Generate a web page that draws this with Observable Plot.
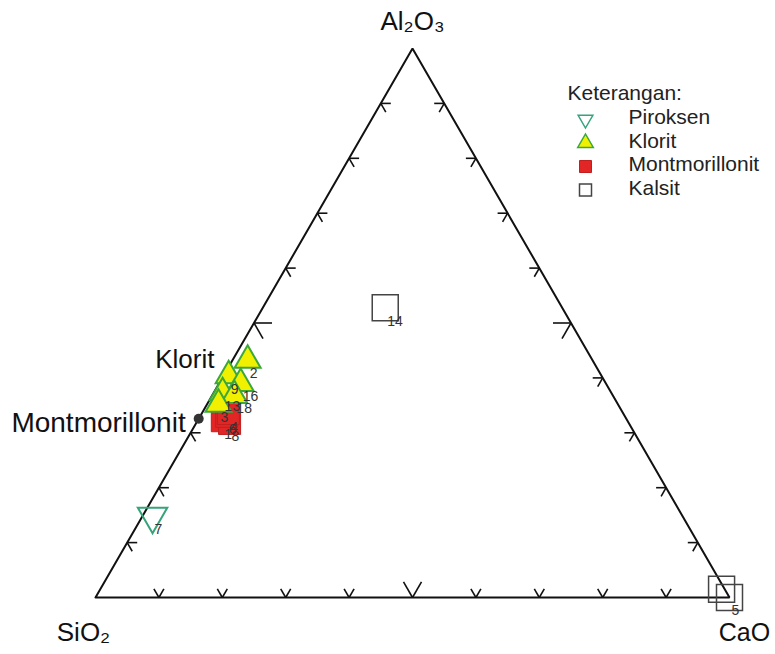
<!DOCTYPE html>
<html><head><meta charset="utf-8">
<script src="https://cdn.jsdelivr.net/npm/d3@7"></script>
<script src="https://cdn.jsdelivr.net/npm/@observablehq/plot@0.6"></script>
<style>html,body{margin:0;padding:0;background:#fff;} #chart svg{display:block}</style>
</head><body><div id="chart"></div>
<script>
// ---- data (weight fractions, %) ----
const sampleLabels   = ["14", "5", "", "7", "1", "8", "6", "4", "2", "9", "16", "13", "18", "3"];
const sampleMinerals = ["Kalsit","Kalsit","Kalsit","Piroksen","Montmorillonit","Montmorillonit","Montmorillonit","Montmorillonit","Klorit","Klorit","Klorit","Klorit","Klorit","Klorit"];
const sio2  = [27.9, 0.0, 0.5, 83.6, 63.9, 63.0, 62.8, 62.3, 54.4, 58.8, 57.6, 61.3, 59.7, 63.0];
const al2o3 = [52.8, 0.0, 1.5, 14.8, 32.2, 31.7, 33.0, 33.5, 43.2, 40.4, 39.0, 37.3, 36.8, 35.2];
const cao   = [19.3, 100.0, 98.0, 1.6, 3.9, 5.3, 4.2, 4.2, 2.4, 0.8, 3.4, 1.4, 3.5, 1.8];

const legendTitle = "Keterangan:";
const legendCategories = ["Piroksen", "Klorit", "Montmorillonit", "Kalsit"];

const vertexNames = ["SiO₂", "Al₂O₃", "CaO"];
const vertexSio2  = [100, 0, 0];
const vertexAl2o3 = [0, 100, 0];
const vertexCao   = [0, 0, 100];

const refNames = ["Klorit", "Montmorillonit"];
const refSio2  = [56.8, 67.45];
const refAl2o3 = [43.2, 32.55];
const refCao   = [0, 0];

const tickValues = [10, 20, 30, 40, 50, 60, 70, 80, 90];

// ---- layout ----
const W = 775, H = 654, mL = 95, mR = 46, mT = 48, mB = 57;
const PW = W - mL - mR, PH = H - mT - mB;
const FONT = "'Liberation Sans', Arial, Helvetica, sans-serif";

// ternary -> cartesian (fractions)
const tx = (s, a, c) => (c + a / 2) / (s + a + c);
const ty = (s, a, c) => a / (s + a + c);

const samples = sampleLabels.map((l, i) => ({
  label: l, mineral: sampleMinerals[i],
  x: tx(sio2[i], al2o3[i], cao[i]), y: ty(sio2[i], al2o3[i], cao[i])
}));
const vertices = vertexNames.map((n, i) => ({
  name: n, x: tx(vertexSio2[i], vertexAl2o3[i], vertexCao[i]), y: ty(vertexSio2[i], vertexAl2o3[i], vertexCao[i])
}));
const outline = [...vertices, vertices[0]];
const refs = refNames.map((n, i) => ({
  name: n, x: tx(refSio2[i], refAl2o3[i], refCao[i]), y: ty(refSio2[i], refAl2o3[i], refCao[i])
}));

// tick chevrons: two arms per tick, parallel to the other two sides
const S = Math.sqrt(3) / 2;
const tickArms = [];
for (const t of tickValues) {
  const L = t === 50 ? 18 : 10;
  const f = t / 100;
  const edges = [
    {p: [f, 0], dirs: [[-0.5, S], [0.5, S]]},
    {p: [f / 2, f], dirs: [[1, 0], [0.5, -S]]},
    {p: [1 - f / 2, f], dirs: [[-1, 0], [-0.5, -S]]}
  ];
  for (const e of edges) for (const d of e.dirs) {
    tickArms.push({x1: e.p[0], y1: e.p[1], x2: e.p[0] + L * d[0] / PW, y2: e.p[1] + L * d[1] / PH});
  }
}

// ---- symbols ----
const triUp = {draw(ctx, size) { const r = Math.sqrt(size / Math.PI);
  ctx.moveTo(0, -r); ctx.lineTo(r * S, r / 2); ctx.lineTo(-r * S, r / 2); ctx.closePath(); }};
const triDown = {draw(ctx, size) { const r = Math.sqrt(size / Math.PI);
  ctx.moveTo(0, r); ctx.lineTo(r * S, -r / 2); ctx.lineTo(-r * S, -r / 2); ctx.closePath(); }};
const sq = {draw(ctx, size) { const r = Math.sqrt(size / Math.PI); ctx.rect(-r, -r, 2 * r, 2 * r); }};

const styles = {
  Piroksen:       {symbol: triDown, r: 17, fill: "none", stroke: "#35a47a", strokeWidth: 2, lr: 8.5},
  Klorit:         {symbol: triUp, r: 15, fill: "#f0f000", stroke: "#3aa83a", strokeWidth: 2, lr: 9},
  Montmorillonit: {symbol: sq, r: 11, fill: "#e22626", stroke: "#c01f1f", strokeWidth: 1, lr: 6},
  Kalsit:         {symbol: sq, r: 13, fill: "none", stroke: "#444", strokeWidth: 1.5, lr: 6}
};
const drawOrder = ["Kalsit", "Piroksen", "Montmorillonit", "Klorit"];

const sampleMarks = drawOrder.map(m => {
  const s = styles[m];
  return Plot.dot(samples.filter(d => d.mineral === m), {
    x: "x", y: "y", symbol: s.symbol, r: s.r, fill: s.fill, stroke: s.stroke, strokeWidth: s.strokeWidth
  });
});

const legendMarks = [
  Plot.text([legendTitle], {frameAnchor: "top-left", dx: 472, dy: 45, text: d => d,
    textAnchor: "start", lineAnchor: "middle", fontSize: 21, fill: "#222"}),
  ...legendCategories.flatMap((c, i) => {
    const s = styles[c];
    return [
      Plot.dot([c], {frameAnchor: "top-left", dx: 490, dy: 71 + i * 23.5, symbol: s.symbol, r: s.lr,
        fill: s.fill, stroke: s.stroke, strokeWidth: c === "Montmorillonit" ? 1 : 1.5}),
      Plot.text([c], {frameAnchor: "top-left", dx: 533, dy: 69 + i * 23.5, text: d => d,
        textAnchor: "start", lineAnchor: "middle", fontSize: 21, fill: "#222"})
    ];
  })
];

const chart = Plot.plot({
  width: W, height: H,
  marginLeft: mL, marginRight: mR, marginTop: mT, marginBottom: mB,
  x: {domain: [0, 1], axis: null},
  y: {domain: [0, 1], axis: null},
  style: {fontFamily: FONT, background: "#fff", overflow: "visible"},
  marks: [
    Plot.link(tickArms, {x1: "x1", y1: "y1", x2: "x2", y2: "y2", stroke: "#111", strokeWidth: 1.6}),
    Plot.line(outline, {x: "x", y: "y", stroke: "#111", strokeWidth: 2, strokeLinejoin: "miter"}),
    Plot.dot(refs.filter(d => d.name === "Montmorillonit"), {x: "x", y: "y", r: 5, fill: "#333"}),
    ...sampleMarks,
    Plot.text(samples.filter(d => d.label), {x: "x", y: "y", text: "label", textAnchor: "start", lineAnchor: "top",
      dx: 2, dy: 8, fontSize: 14, fill: "#333"}),
    Plot.text(refs.filter(d => d.name === "Klorit"), {x: "x", y: "y", text: "name", textAnchor: "end",
      lineAnchor: "middle", dx: -18, dy: -1, fontSize: 26, fill: "#111"}),
    Plot.text(refs.filter(d => d.name === "Montmorillonit"), {x: "x", y: "y", text: "name", textAnchor: "end",
      lineAnchor: "middle", dx: -13, dy: 4, fontSize: 28, fill: "#111"}),
    Plot.text(vertices.filter(d => d.name === "Al₂O₃"), {x: "x", y: "y", text: "name", textAnchor: "middle",
      lineAnchor: "middle", dy: -27, fontSize: 26, fill: "#111"}),
    Plot.text(vertices.filter(d => d.name === "SiO₂"), {x: "x", y: "y", text: "name", textAnchor: "middle",
      lineAnchor: "middle", dx: -12, dy: 35, fontSize: 26, fill: "#111"}),
    Plot.text(vertices.filter(d => d.name === "CaO"), {x: "x", y: "y", text: "name", textAnchor: "middle",
      lineAnchor: "middle", dx: 15, dy: 35, fontSize: 25, fill: "#111"}),
    ...legendMarks
  ]
});
document.getElementById("chart").appendChild(chart);
</script>
</body></html>
